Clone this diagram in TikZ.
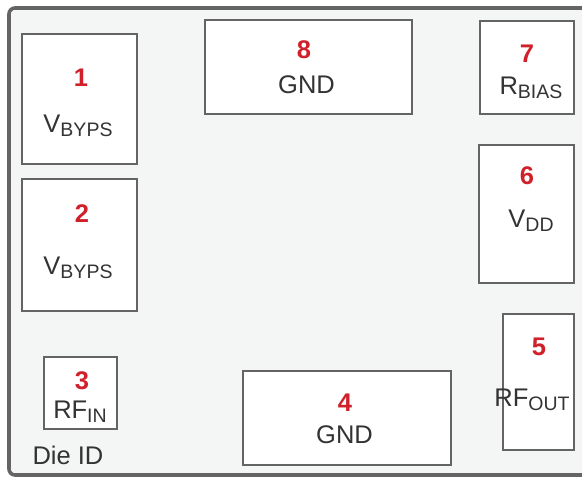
\documentclass[tikz,border=0pt]{standalone}
\usepackage{fontspec}
\setmainfont{Liberation Sans}
\definecolor{edgegray}{HTML}{646464}
\definecolor{diefill}{HTML}{F4F6F6}
\definecolor{pinred}{HTML}{D0202A}
\definecolor{txtgray}{HTML}{333333}
\newcommand\padsub[1]{\raisebox{-4.5pt}{\fontsize{19.5}{22}\selectfont #1}}
\tikzset{
  pad/.style={draw=edgegray, fill=white, line width=2.6pt, inner sep=0pt, rectangle},
  pinnum/.style={anchor=base, inner sep=0pt, text=pinred, font=\fontsize{25.5}{30}\selectfont\bfseries},
  pinlabel/.style={anchor=base, inner sep=0pt, text=txtgray, font=\fontsize{25.5}{30}\selectfont},
}
\begin{document}
\begin{tikzpicture}[x=1pt,y=-1pt]
\useasboundingbox (0,0) rectangle (582,477);
\fill[white] (0,0) rectangle (582,477);
\begin{scope}
\clip (0,0) rectangle (582,477);
\draw[draw=edgegray, fill=diefill, line width=3.6pt, rounded corners=6pt] (9,8) rectangle (600,475);
\end{scope}
% pads
\node[pad, minimum width=115pt, minimum height=130pt] (p1) at (79.5,99) {};
\node[pad, minimum width=115pt, minimum height=132pt] (p2) at (79.5,245) {};
\node[pad, minimum width=73pt, minimum height=72pt] (p3) at (80.5,393) {};
\node[pad, minimum width=208pt, minimum height=94pt] (p4) at (347,418) {};
\node[pad, minimum width=71pt, minimum height=136pt] (p5) at (538.5,382) {};
\node[pad, minimum width=95pt, minimum height=138pt] (p6) at (526.5,214) {};
\node[pad, minimum width=94pt, minimum height=93pt] (p7) at (527,67.5) {};
\node[pad, minimum width=207pt, minimum height=94pt] (p8) at (308.5,67) {};
% numbers
\node[pinnum] (n1) at (81,86) {1};
\node[pinnum] (n2) at (82,222) {2};
\node[pinnum] (n3) at (82,389) {3};
\node[pinnum] (n4) at (345,411) {4};
\node[pinnum] (n5) at (539,355) {5};
\node[pinnum] (n6) at (527,184) {6};
\node[pinnum] (n7) at (527,62) {7};
\node[pinnum] (n8) at (304,58) {8};
% labels
\node[pinlabel] (l1) at (78,132) {V\padsub{BYPS}};
\node[pinlabel] (l2) at (78,274) {V\padsub{BYPS}};
\node[pinlabel] (l3) at (80,418) {RF\padsub{IN}};
\node[pinlabel] (l4) at (344.5,443) {GND};
\node[pinlabel] (l5) at (532,406) {RF\padsub{OUT}};
\node[pinlabel] (l6) at (531,227) {V\padsub{DD}};
\node[pinlabel] (l7) at (531,94) {R\padsub{BIAS}};
\node[pinlabel] (l8) at (306.5,93) {GND};
\node[pinlabel] (dieid) at (68,464) {Die ID};
\end{tikzpicture}
\end{document}
